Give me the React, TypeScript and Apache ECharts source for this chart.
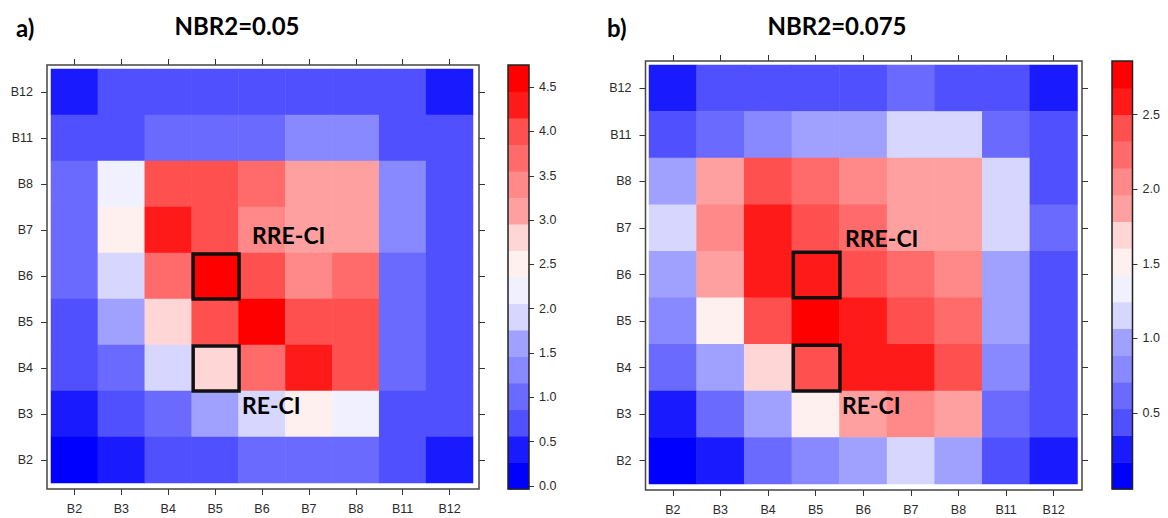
import React, { useEffect, useRef } from 'react';
import * as echarts from 'echarts';

// Spectral band combinations (columns left->right, rows bottom->top)
const bands = ['B2', 'B3', 'B4', 'B5', 'B6', 'B7', 'B8', 'B11', 'B12'];
// Rows of the matrices below are listed from top (B12) to bottom (B2)
const rowsTopDown = ['B12', 'B11', 'B8', 'B7', 'B6', 'B5', 'B4', 'B3', 'B2'];

// 16 colour levels, low -> high
const levelColors = [
  '#0000FF', '#1A1AFF', '#5050FF', '#6A6AFF', '#8888FF', '#A0A0FF', '#D6D6FF', '#F0F0FF',
  '#FFF0F0', '#FFD6D6', '#FFA0A0', '#FF8888', '#FF6A6A', '#FF5050', '#FF1A1A', '#FF0000',
];

// Panel a) NBR2 = 0.05
const breaksA = [-0.034, 0.265, 0.564, 0.863, 1.162, 1.461, 1.76, 2.059, 2.358, 2.657, 2.956, 3.255, 3.554, 3.853, 4.152, 4.451, 4.75];
const ticksA = [0, 0.5, 1, 1.5, 2, 2.5, 3, 3.5, 4, 4.5];
const valuesA = [
  [0.41, 0.71, 0.71, 0.71, 0.71, 0.71, 0.71, 0.71, 0.41],
  [0.71, 0.71, 1.01, 1.01, 1.01, 1.31, 1.31, 0.71, 0.71],
  [1.01, 2.21, 4.00, 4.00, 3.70, 3.11, 3.11, 1.31, 0.71],
  [1.01, 2.51, 4.30, 4.00, 3.40, 3.11, 3.11, 1.31, 0.71],
  [1.01, 1.91, 3.70, 4.60, 4.00, 3.40, 3.70, 1.01, 0.71],
  [0.71, 1.61, 2.81, 4.00, 4.60, 4.00, 4.00, 1.01, 0.71],
  [0.71, 1.01, 1.91, 2.81, 3.70, 4.30, 4.00, 1.01, 0.71],
  [0.41, 0.71, 1.01, 1.61, 1.91, 2.51, 2.21, 0.71, 0.71],
  [0.12, 0.41, 0.71, 0.71, 1.01, 1.01, 1.01, 0.71, 0.41],
];

// Panel b) NBR2 = 0.075
const breaksB = [-0.009, 0.170, 0.350, 0.529, 0.708, 0.888, 1.067, 1.246, 1.425, 1.605, 1.784, 1.963, 2.143, 2.322, 2.501, 2.680, 2.860];
const ticksB = [0.5, 1, 1.5, 2, 2.5];
const valuesB = [
  [0.26, 0.44, 0.44, 0.44, 0.44, 0.62, 0.44, 0.44, 0.26],
  [0.44, 0.62, 0.80, 0.98, 0.98, 1.16, 1.16, 0.62, 0.44],
  [0.98, 1.87, 2.41, 2.23, 2.05, 1.87, 1.87, 1.16, 0.44],
  [1.16, 2.05, 2.59, 2.41, 2.23, 1.87, 1.87, 1.16, 0.62],
  [0.98, 1.87, 2.59, 2.59, 2.41, 2.23, 2.05, 0.98, 0.44],
  [0.80, 1.52, 2.41, 2.77, 2.59, 2.41, 2.23, 0.98, 0.44],
  [0.62, 0.98, 1.69, 2.41, 2.59, 2.59, 2.41, 0.80, 0.44],
  [0.26, 0.62, 0.98, 1.52, 1.87, 2.05, 1.87, 0.62, 0.44],
  [0.08, 0.26, 0.62, 0.80, 0.98, 1.16, 0.98, 0.44, 0.26],
];

// Highlighted cells: [x band, y band]
const boxCells = [['B5', 'B6'], ['B5', 'B4']];

const panelTitles = ['NBR2=0.05', 'NBR2=0.075'];
const panelLetters = ['a)', 'b)'];
const boxLabels = ['RRE-CI', 'RE-CI'];

const layouts = [
  {
    grid: { left: 51, top: 69, width: 422, height: 414 },
    off: { bottom: 6, top: 4, left: 4, right: 6 },
    frame: { x: 47, y: 65, width: 432, height: 424 },
    cbar: { left: 508, top: 65, width: 21, height: 424 },
    letter: { x: 16, y: 27 },
    title: { x: 237, y: 25 },
    labels: [{ x: 252, y: 235 }, { x: 242, y: 405 }],
  },
  {
    grid: { left: 649, top: 65, width: 428.5, height: 419 },
    off: { bottom: 6, top: 4, left: 3.5, right: 4.5 },
    frame: { x: 645.5, y: 61, width: 436.5, height: 429 },
    cbar: { left: 1112, top: 61, width: 20.5, height: 428 },
    letter: { x: 607, y: 27 },
    title: { x: 837, y: 25 },
    labels: [{ x: 845, y: 238 }, { x: 842, y: 405 }],
  },
];

const panels = [
  { values: valuesA, breaks: breaksA, ticks: ticksA },
  { values: valuesB, breaks: breaksB, ticks: ticksB },
];

const TICK_COLOR = '#333';
const LABEL_COLOR = '#2a2a2a';
const LABEL_SIZE = 12.5;
const LABEL_FONT = "'Liberation Sans', Arial, sans-serif";
const TITLE_FONT = "Lato, 'Open Sans', sans-serif";

function buildOption() {
  const grid: any[] = [];
  const xAxis: any[] = [];
  const yAxis: any[] = [];
  const series: any[] = [];
  const visualMap: any[] = [];
  const graphic: any[] = [];

  panels.forEach((p, pi) => {
    const L = layouts[pi];
    const g0 = pi * 2;
    grid.push({ ...L.grid, containLabel: false });
    grid.push({ ...L.cbar, containLabel: false });
    const ax = pi * 3;

    const catAxisCommon = {
      type: 'category',
      data: bands,
      gridIndex: g0,
      boundaryGap: true,
      axisLine: { show: false },
      axisTick: { show: true, alignWithLabel: true, length: 6, lineStyle: { color: TICK_COLOR, width: 1 } },
      splitLine: { show: false },
    };
    xAxis.push({
      ...catAxisCommon,
      position: 'bottom',
      offset: L.off.bottom,
      axisLabel: { show: true, margin: 13, fontSize: LABEL_SIZE, color: LABEL_COLOR, fontFamily: LABEL_FONT },
    });
    xAxis.push({ ...catAxisCommon, position: 'top', offset: L.off.top, axisLabel: { show: false } });
    xAxis.push({
      type: 'category', data: ['c'], gridIndex: g0 + 1, show: false, boundaryGap: true,
    });
    yAxis.push({
      ...catAxisCommon,
      position: 'left',
      offset: L.off.left,
      axisLabel: { show: true, margin: 14, fontSize: LABEL_SIZE, color: LABEL_COLOR, fontFamily: LABEL_FONT },
    });
    yAxis.push({ ...catAxisCommon, position: 'right', offset: L.off.right, axisLabel: { show: false } });
    yAxis.push({
      type: 'value',
      gridIndex: g0 + 1,
      position: 'right',
      min: p.breaks[0],
      max: p.breaks[p.breaks.length - 1],
      axisLine: { show: false },
      splitLine: { show: false },
      axisTick: { show: true, length: 5, customValues: p.ticks, lineStyle: { color: TICK_COLOR, width: 1 } },
      axisLabel: {
        show: true, margin: 10, fontSize: LABEL_SIZE, color: LABEL_COLOR, fontFamily: LABEL_FONT,
        customValues: p.ticks,
        formatter: (v: number) => v.toFixed(1),
      },
    });

    const heatData: any[] = [];
    p.values.forEach((row, ri) => {
      row.forEach((v, ci) => {
        heatData.push([ci, bands.indexOf(rowsTopDown[ri]), v]);
      });
    });
    const heatIndex = series.length;
    series.push({
      type: 'heatmap',
      xAxisIndex: ax,
      yAxisIndex: ax,
      data: heatData,
      itemStyle: { borderWidth: 0 },
      emphasis: { disabled: true },
      label: { show: false },
    });
    series.push({
      type: 'custom',
      xAxisIndex: ax,
      yAxisIndex: ax,
      z: 5,
      encode: { x: 0, y: 1 },
      data: boxCells.map(([bx, by]) => [bands.indexOf(bx), bands.indexOf(by)]),
      renderItem: (params: any, api: any) => {
        const c = api.coord([api.value(0), api.value(1)]);
        const s = api.size([1, 1]);
        return {
          type: 'rect',
          shape: { x: c[0] - s[0] / 2 + 1.5, y: c[1] - s[1] / 2 + 1, width: s[0] - 1, height: s[1] - 1 },
          style: { fill: 'none', stroke: '#111', lineWidth: 3.5 },
        };
      },
    });
    series.push({
      type: 'custom',
      xAxisIndex: ax + 2,
      yAxisIndex: ax + 2,
      encode: { x: 0, y: [1, 2] },
      data: levelColors.map((_, i) => [0, p.breaks[i], p.breaks[i + 1]]),
      renderItem: (params: any, api: any) => {
        const lo = api.coord([0, api.value(1)]);
        const hi = api.coord([0, api.value(2)]);
        const w = api.size([1, 0])[0];
        return {
          type: 'rect',
          shape: { x: lo[0] - w / 2, y: hi[1], width: w, height: lo[1] - hi[1] + 0.5 },
          style: { fill: levelColors[params.dataIndex], stroke: 'none' },
        };
      },
    });

    const pieces = levelColors.map((color, i) => {
      const last = i === levelColors.length - 1;
      return last
        ? { gte: p.breaks[i], lte: p.breaks[i + 1], color }
        : { gte: p.breaks[i], lt: p.breaks[i + 1], color };
    });
    visualMap.push({ type: 'piecewise', show: false, seriesIndex: heatIndex, dimension: 2, pieces });

    graphic.push({
      type: 'rect', z: 100,
      shape: { ...L.frame },
      style: { fill: 'none', stroke: '#444', lineWidth: 1.5 },
    });
    graphic.push({
      type: 'rect', z: 100,
      shape: { x: L.cbar.left, y: L.cbar.top, width: L.cbar.width, height: L.cbar.height },
      style: { fill: 'none', stroke: '#222', lineWidth: 1.5 },
    });
    graphic.push({
      type: 'text', z: 100, x: L.letter.x, y: L.letter.y,
      style: { text: panelLetters[pi], fontFamily: TITLE_FONT, fontWeight: 'bold', fontSize: 24, fill: '#000', align: 'left', verticalAlign: 'middle' },
    });
    graphic.push({
      type: 'text', z: 100, x: L.title.x, y: L.title.y,
      style: { text: panelTitles[pi], fontFamily: TITLE_FONT, fontWeight: 'bold', fontSize: 24, fill: '#000', align: 'center', verticalAlign: 'middle' },
    });
    boxLabels.forEach((t, i) => {
      graphic.push({
        type: 'text', z: 100, x: L.labels[i].x, y: L.labels[i].y,
        style: { text: t, fontFamily: TITLE_FONT, fontWeight: 'bold', fontSize: 23, fill: '#000', align: 'left', verticalAlign: 'middle' },
      });
    });
  });

  return {
    animation: false,
    backgroundColor: '#fff',
    grid,
    xAxis,
    yAxis,
    visualMap,
    series,
    graphic,
  };
}

export default function App() {
  const ref = useRef<HTMLDivElement>(null);
  useEffect(() => {
    if (!ref.current) return;
    const chart = echarts.init(ref.current, undefined, { renderer: 'svg' });
    chart.setOption(buildOption() as any);
    return () => chart.dispose();
  }, []);
  return (
    <div
      ref={ref}
      style={{ position: 'fixed', left: 0, top: 0, width: 1168, height: 518 }}
    />
  );
}
